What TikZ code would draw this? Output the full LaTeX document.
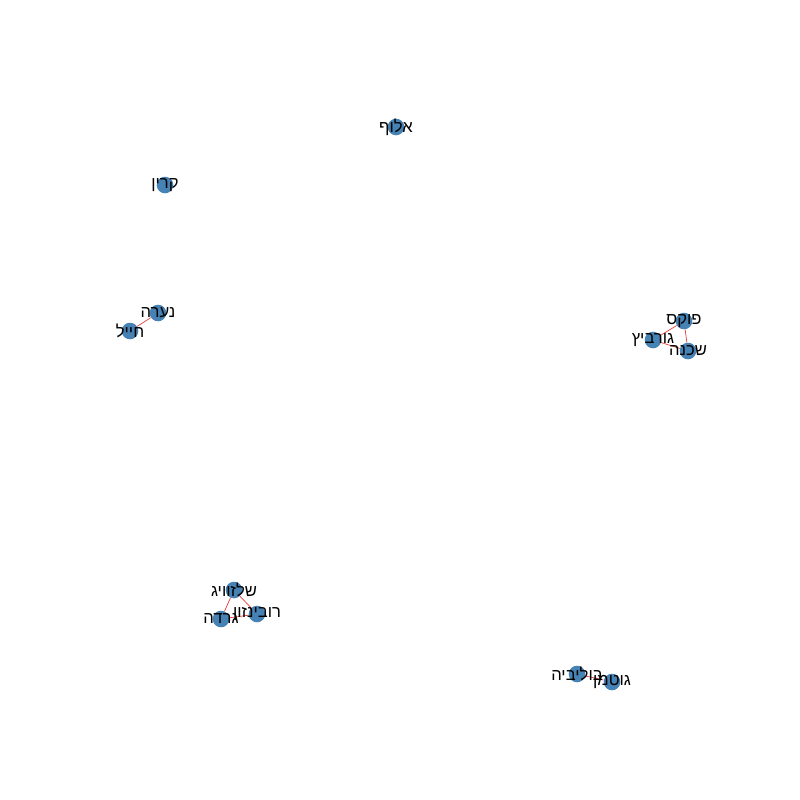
\documentclass[tikz,border=0pt]{standalone}
\usepackage{fontspec}
\usepackage{tikz}
\newfontfamily\hebfont[Script=Hebrew]{Liberation Sans}
\TeXXeTstate=1

\begin{document}
\begin{tikzpicture}[
	x=0.254mm, y=-0.254mm,
	dot/.style={circle, fill={rgb,255:red,70;green,130;blue,180}, inner sep=0pt, minimum size=12},
	lbl/.style={font=\hebfont\fontsize{12}{14}\selectfont, inner sep=0pt, text=black},
	kant/.style={draw={rgb,255:red,235;green,60;blue,60}, line width=0.5pt}
	]
	\useasboundingbox[fill=white] (0,0) rectangle (800,800);

	\node[dot] (aluf) at (396,127) {};
	\node[dot] (karin) at (165,185) {};
	\node[dot] (naara) at (158,313) {};
	\node[dot] (hayal) at (130,331) {};
	\node[dot] (fuks) at (684,321) {};
	\node[dot] (gurvich) at (653,340) {};
	\node[dot] (shchena) at (688,351) {};
	\node[dot] (shlezvig) at (234,590) {};
	\node[dot] (robinzon) at (257,614) {};
	\node[dot] (gerda) at (221,619) {};
	\node[dot] (bolivia) at (577,674) {};
	\node[dot] (gutman) at (612,682) {};

	\draw[kant] (naara) -- (hayal);
	\draw[kant] (fuks) -- (gurvich);
	\draw[kant] (fuks) -- (shchena);
	\draw[kant] (gurvich) -- (shchena);
	\draw[kant] (shlezvig) -- (robinzon);
	\draw[kant] (shlezvig) -- (gerda);
	\draw[kant] (robinzon) -- (gerda);
	\draw[kant] (bolivia) -- (gutman);

	\node[lbl] (aluf-t) at (aluf) {\beginR אלוף\endR};
	\node[lbl] (karin-t) at (karin) {\beginR קרין\endR};
	\node[lbl] (naara-t) at (naara) {\beginR נערה\endR};
	\node[lbl] (hayal-t) at (hayal) {\beginR חייל\endR};
	\node[lbl] (fuks-t) at (fuks) {\beginR פוקס\endR};
	\node[lbl] (gurvich-t) at (gurvich) {\beginR גורביץ\endR};
	\node[lbl] (shchena-t) at (shchena) {\beginR שכנה\endR};
	\node[lbl] (shlezvig-t) at (shlezvig) {\beginR שלזוויג\endR};
	\node[lbl] (robinzon-t) at (robinzon) {\beginR רובינזון\endR};
	\node[lbl] (gerda-t) at (gerda) {\beginR גרדה\endR};
	\node[lbl] (bolivia-t) at (bolivia) {\beginR בוליביה\endR};
	\node[lbl] (gutman-t) at (gutman) {\beginR גוטמן\endR};
\end{tikzpicture}
\end{document}
